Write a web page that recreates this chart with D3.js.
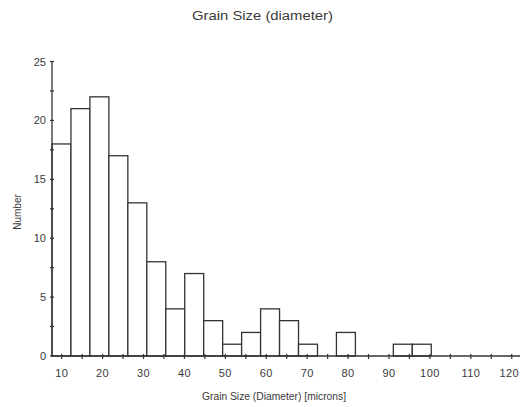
<!DOCTYPE html>
<html>
<head>
<meta charset="utf-8">
<script src="https://cdn.jsdelivr.net/npm/d3@7"></script>
<style>
  body { margin: 0; background: #fff; }
  svg text { font-family: "Liberation Sans", Arial, sans-serif; fill: #3a3a3a; }
</style>
</head>
<body>
<svg id="chart" width="520" height="407"></svg>
<script>
// histogram counts, 20 equal bins
var counts = [18, 21, 22, 17, 13, 8, 4, 7, 3, 1, 2, 4, 3, 1, 0, 2, 0, 0, 1, 1];
var binStart = 7.63;     // lower edge of first bin (microns)
var binWidth = 4.635;    // bin width (microns)
var xMajorTicks = [10, 20, 30, 40, 50, 60, 70, 80, 90, 100, 110, 120];
var xMinorTicks = [15, 25, 35, 45, 55, 65, 75, 85, 95, 105, 115];
var yMajorTicks = [0, 5, 10, 15, 20, 25];
var yMinorTicks = [2.5, 7.5, 12.5, 17.5, 22.5];

var title = "Grain Size (diameter)";
var xTitle = "Grain Size (Diameter) [microns]";
var yTitle = "Number";

var svg = d3.select("#chart");
var ink = "#333";
var W = 520;

var x = d3.scaleLinear()
  .domain([binStart, 123])
  .range([52, 524]);

var y = d3.scaleLinear()
  .domain([0, 25])
  .range([356, 61.5]);

var bins = counts.map(function (c, i) {
  return { x0: binStart + i * binWidth, x1: binStart + (i + 1) * binWidth, n: c };
});

// bars
svg.append("g")
  .selectAll("rect")
  .data(bins.filter(function (d) { return d.n > 0; }))
  .enter()
  .append("rect")
  .attr("x", function (d) { return x(d.x0); })
  .attr("y", function (d) { return y(d.n); })
  .attr("width", function (d) { return x(d.x1) - x(d.x0); })
  .attr("height", function (d) { return y(0) - y(d.n); })
  .attr("fill", "#fff")
  .attr("stroke", ink)
  .attr("stroke-width", 1.3);

// x axis
var gx = svg.append("g").attr("transform", "translate(0," + y(0) + ")");
gx.append("line")
  .attr("x1", x.range()[0]).attr("x2", W)
  .attr("stroke", ink).attr("stroke-width", 1.3);
gx.selectAll("line.tick")
  .data(xMajorTicks.concat(xMinorTicks))
  .enter().append("line")
  .attr("class", "tick")
  .attr("x1", x).attr("x2", x)
  .attr("y1", -2).attr("y2", 3)
  .attr("stroke", ink).attr("stroke-width", 1.2);
gx.selectAll("text")
  .data(xMajorTicks)
  .enter().append("text")
  .attr("y", 21)
  .attr("font-size", 11)
  .attr("letter-spacing", 0.4)
  .text(function (d) { return d; })
  .each(function (d) {
    // keep the last label inside the page edge
    var t = d3.select(this);
    var w = this.getComputedTextLength();
    if (x(d) + w / 2 > W - 1) {
      t.attr("x", W - 1).attr("text-anchor", "end");
    } else {
      t.attr("x", x(d)).attr("text-anchor", "middle");
    }
  });

// y axis
var gy = svg.append("g").attr("transform", "translate(" + x.range()[0] + ",0)");
gy.append("line")
  .attr("y1", y(0)).attr("y2", y(25))
  .attr("stroke", ink).attr("stroke-width", 1.3);
gy.selectAll("line.tick")
  .data(yMajorTicks.concat(yMinorTicks))
  .enter().append("line")
  .attr("class", "tick")
  .attr("y1", y).attr("y2", y)
  .attr("x1", -2).attr("x2", 2)
  .attr("stroke", ink).attr("stroke-width", 1.2);
gy.selectAll("text")
  .data(yMajorTicks)
  .enter().append("text")
  .attr("x", -6)
  .attr("y", function (d) { return y(d) + 4; })
  .attr("text-anchor", "end")
  .attr("font-size", 11)
  .text(function (d) { return d; });

// titles (source text is drawn a little wide, so stretch to match)
svg.append("text")
  .attr("x", 262.5).attr("y", 20)
  .attr("text-anchor", "middle")
  .attr("font-size", 12)
  .attr("textLength", 141)
  .attr("lengthAdjust", "spacingAndGlyphs")
  .text(title);

svg.append("text")
  .attr("x", 274).attr("y", 399.5)
  .attr("text-anchor", "middle")
  .attr("font-size", 10)
  .attr("textLength", 144)
  .attr("lengthAdjust", "spacingAndGlyphs")
  .text(xTitle);

svg.append("text")
  .attr("transform", "translate(21,212) rotate(-90)")
  .attr("text-anchor", "middle")
  .attr("font-size", 10)
  .text(yTitle);
</script>
</body>
</html>
